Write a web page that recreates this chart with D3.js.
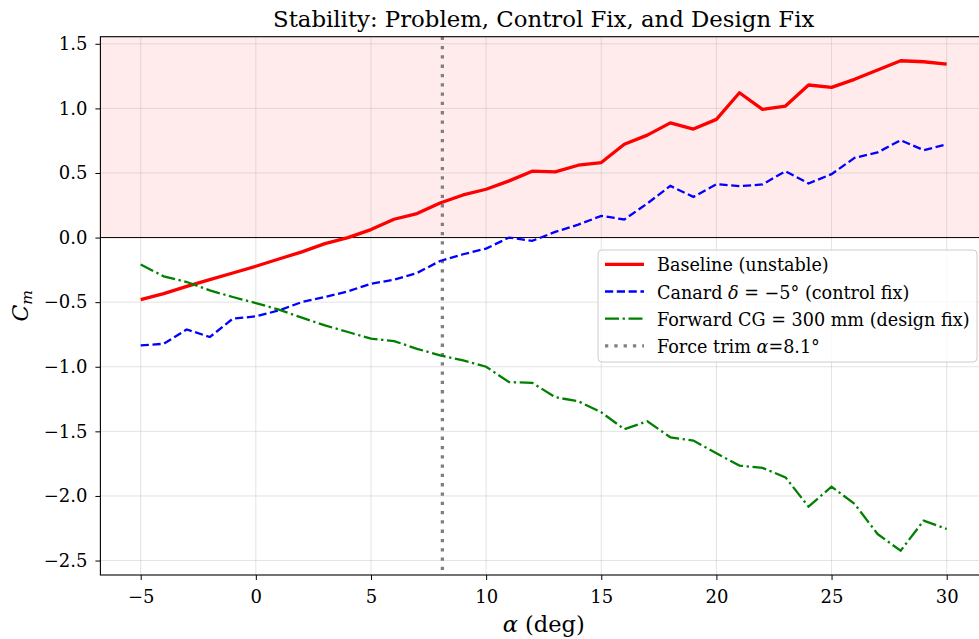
<!DOCTYPE html>
<html><head><meta charset="utf-8">
<script src="https://cdn.jsdelivr.net/npm/d3@7"></script>
<style>body{margin:0;background:#fff}svg{display:block;font-family:"DejaVu Serif",serif}</style>
</head><body><svg id="c" width="979" height="639"></svg>
<script>
const alpha = d3.range(-5, 31, 1);
const baseline = [-0.481,-0.434,-0.378,-0.326,-0.274,-0.222,-0.166,-0.111,-0.047,0.0,0.062,0.142,0.186,0.268,0.33,0.374,0.439,0.514,0.509,0.56,0.581,0.723,0.793,0.888,0.84,0.915,1.121,0.992,1.018,1.181,1.163,1.225,1.297,1.369,1.361,1.343];
const canard = [-0.835,-0.822,-0.711,-0.77,-0.628,-0.61,-0.564,-0.499,-0.46,-0.416,-0.357,-0.326,-0.274,-0.181,-0.129,-0.085,0.0,-0.026,0.044,0.1,0.168,0.14,0.264,0.4,0.315,0.413,0.398,0.411,0.514,0.419,0.491,0.617,0.659,0.754,0.677,0.721];
const forward = [-0.209,-0.3,-0.344,-0.409,-0.46,-0.507,-0.558,-0.62,-0.68,-0.731,-0.783,-0.801,-0.861,-0.912,-0.951,-1.0,-1.119,-1.124,-1.236,-1.267,-1.352,-1.484,-1.422,-1.546,-1.571,-1.67,-1.765,-1.783,-1.856,-2.083,-1.928,-2.062,-2.295,-2.424,-2.191,-2.256];
const trimAlpha = 8.1;
const xTicks = [-5,0,5,10,15,20,25,30];
const yTicks = [-2.5,-2.0,-1.5,-1.0,-0.5,0.0,0.5,1.0,1.5];
const seriesNames = ["Baseline (unstable)", "Canard δ = −5° (control fix)", "Forward CG = 300 mm (design fix)", "Force trim α=8.1°"];

const svg = d3.select("#c");
const L = 100.4, R = 987, T = 36.7, B = 575;
const x = d3.scaleLinear().domain([-6.75, 31.75]).range([L, R]);
const y = d3.scaleLinear().domain([-2.612, 1.555]).range([B, T]);
const fmt = v => (v < 0 ? "\u2212" : "") + Math.abs(v).toString();
const fmtY = v => (v < 0 ? "\u2212" : "") + Math.abs(v).toFixed(1);

svg.append("defs").append("clipPath").attr("id","clip").append("rect")
  .attr("x",L).attr("y",T).attr("width",R-L).attr("height",B-T);

// shaded unstable region
svg.append("rect").attr("x",L).attr("y",T).attr("width",R-L).attr("height",y(0)-T)
  .attr("fill","#ff0000").attr("fill-opacity",0.08);

// grid
const g = svg.append("g");
g.selectAll(".gx").data(xTicks).join("line").attr("x1",d=>x(d)).attr("x2",d=>x(d))
  .attr("y1",T).attr("y2",B).attr("stroke","#b0b0b0").attr("stroke-opacity",0.35).attr("stroke-width",1);
g.selectAll(".gy").data(yTicks).join("line").attr("y1",d=>y(d)).attr("y2",d=>y(d))
  .attr("x1",L).attr("x2",R).attr("stroke","#b0b0b0").attr("stroke-opacity",0.35).attr("stroke-width",1);

// zero line
svg.append("line").attr("x1",L).attr("x2",R).attr("y1",y(0)).attr("y2",y(0))
  .attr("stroke","#000").attr("stroke-width",1);

const plot = svg.append("g").attr("clip-path","url(#clip)");
const line = data => d3.line().x((d,i)=>x(alpha[i])).y(d=>y(d))(data);

plot.append("line").attr("x1",x(trimAlpha)).attr("x2",x(trimAlpha)).attr("y1",T).attr("y2",B)
  .attr("stroke","#808080").attr("stroke-width",3.3).attr("stroke-dasharray","3.3,6");
plot.append("path").attr("d",line(baseline)).attr("fill","none").attr("stroke","#ff0000")
  .attr("stroke-width",3.3).attr("stroke-linejoin","round");
plot.append("path").attr("d",line(canard)).attr("fill","none").attr("stroke","#0000ff")
  .attr("stroke-width",2.3).attr("stroke-dasharray","8.2,3.6");
plot.append("path").attr("d",line(forward)).attr("fill","none").attr("stroke","#008000")
  .attr("stroke-width",2.3).attr("stroke-dasharray","14,3.6,2.3,3.6");

// spines
svg.append("rect").attr("x",L).attr("y",T).attr("width",R-L).attr("height",B-T)
  .attr("fill","none").attr("stroke","#000").attr("stroke-width",1.1);

// axes
const xa = svg.append("g").attr("transform",`translate(0,${B})`)
  .call(d3.axisBottom(x).tickValues(xTicks).tickFormat(fmt).tickSize(5).tickPadding(10));
const ya = svg.append("g").attr("transform",`translate(${L},0)`)
  .call(d3.axisLeft(y).tickValues(yTicks).tickFormat(fmtY).tickSize(5).tickPadding(8));
[xa,ya].forEach(a=>{a.select(".domain").remove();
  a.selectAll("text").attr("font-family","DejaVu Serif").attr("font-size",18).attr("fill","#000");
  a.selectAll("line").attr("stroke","#000").attr("stroke-width",1);});

// title and labels
svg.append("text").attr("x",(L+R)/2).attr("y",27).attr("text-anchor","middle")
  .attr("font-size",22.8).text("Stability: Problem, Control Fix, and Design Fix");
const xl = svg.append("text").attr("x",(L+R)/2).attr("y",632).attr("text-anchor","middle").attr("font-size",22.5);
xl.append("tspan").attr("font-style","italic").text("α");
xl.append("tspan").text(" (deg)");
const yl = svg.append("text").attr("transform",`translate(28,${(T+B)/2}) rotate(-90)`).attr("text-anchor","middle").attr("font-size",22);
yl.append("tspan").attr("font-style","italic").text("C");
yl.append("tspan").attr("font-style","italic").attr("font-size",15.5).attr("dy",4).text("m");

// legend
const lg = svg.append("g");
lg.append("rect").attr("x",598).attr("y",250).attr("width",379).attr("height",112).attr("rx",4)
  .attr("fill","#fff").attr("fill-opacity",0.8).attr("stroke","#cccccc").attr("stroke-width",1);
const styles = [
  {c:"#ff0000", w:3.3, d:null},
  {c:"#0000ff", w:2.3, d:"8.2,3.6"},
  {c:"#008000", w:2.3, d:"14,3.6,2.3,3.6"},
  {c:"#808080", w:3.3, d:"3.3,6"}];
seriesNames.forEach((n,i)=>{
  const yy = 264.3 + i*27.2;
  lg.append("line").attr("x1",605).attr("x2",644).attr("y1",yy).attr("y2",yy)
    .attr("stroke",styles[i].c).attr("stroke-width",styles[i].w).attr("stroke-dasharray",styles[i].d);
  const t = lg.append("text").attr("x",657).attr("y",yy+7).attr("font-size",17.6);
  if (i===1){ t.append("tspan").text("Canard "); t.append("tspan").attr("font-style","italic").text("δ");
    t.append("tspan").text(" = −5° (control fix)"); }
  else if (i===3){ t.append("tspan").text("Force trim "); t.append("tspan").attr("font-style","italic").text("α");
    t.append("tspan").text("=8.1°"); }
  else t.text(n);
});
</script></body></html>
